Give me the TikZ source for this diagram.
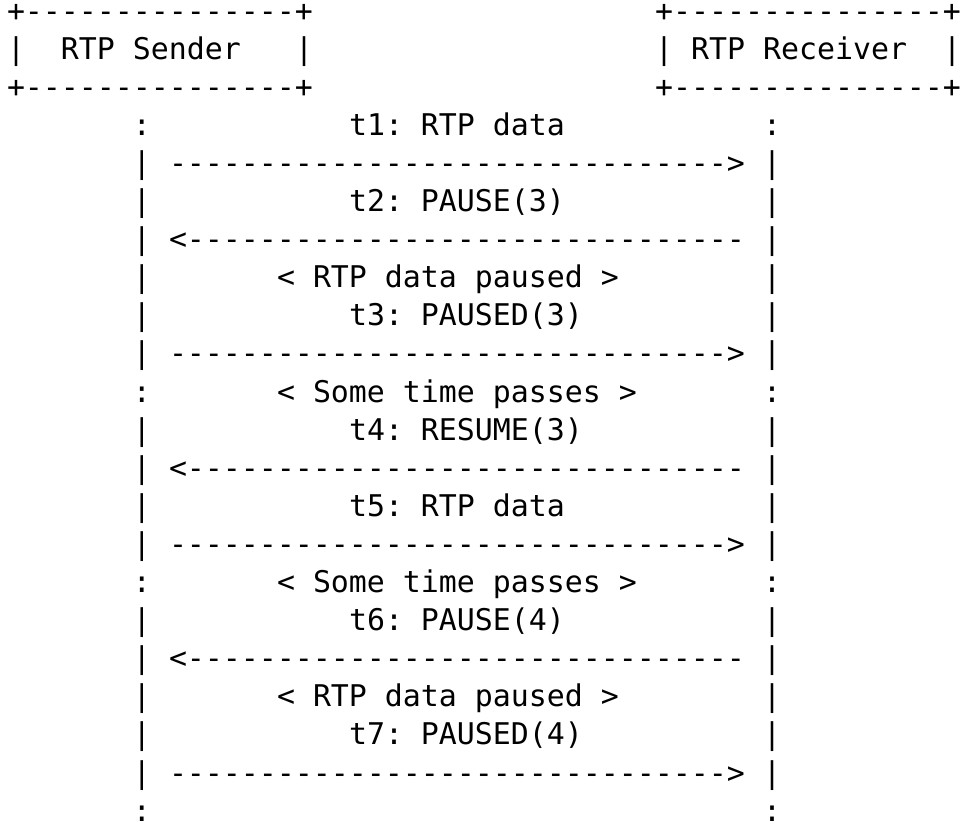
\documentclass[tikz,border=0pt]{standalone}
\usepackage{fontspec}
\newfontfamily\asciifont{DejaVu Sans Mono}
\frenchspacing
\tikzset{
  glyph/.style={anchor=base west, inner sep=0pt, outer sep=0pt,
    font=\asciifont\fontsize{14.95pt}{18pt}\selectfont\frenchspacing},
}

\begin{document}
\begin{tikzpicture}[x=0.5pt, y=-0.5pt]
  \def \cw {18}
  \def \lh {38.1}
  \useasboundingbox (0,0) rectangle (960,827);

  % the two boxes
  \foreach \c/\n in {0/snd, 36/rcv}
  {
    \node[glyph] (\n top) at ({7+\c*\cw}, {21+0*\lh}) {+---------------+};
    \node[glyph] (\n l) at ({7+\c*\cw}, {21+1*\lh}) {|};
    \node[glyph] (\n r) at ({7+(\c+16)*\cw}, {21+1*\lh}) {|};
    \node[glyph] (\n bot) at ({7+\c*\cw}, {21+2*\lh}) {+---------------+};
  }
  \node[glyph] (sndname) at ({7+3*\cw}, {21+1*\lh}) {RTP Sender};
  \node[glyph] (rcvname) at ({7+38*\cw}, {21+1*\lh}) {RTP Receiver};

  % life lines
  \foreach \r in {4,...,9,11,12,13,14,16,17,18,19,20}
  {
    \node[glyph] (sndl\r) at ({7+7*\cw}, {21+\r*\lh}) {|};
    \node[glyph] (rcvl\r) at ({7+42*\cw}, {21+\r*\lh}) {|};
  }
  \foreach \r in {3,10,15,21}
  {
    \node[glyph] (sndl\r) at ({7+7*\cw}, {21+\r*\lh}) {:};
    \node[glyph] (rcvl\r) at ({7+42*\cw}, {21+\r*\lh}) {:};
  }

  % messages
  \foreach \r/\c/\t [count=\i] in {3/19/{t1: RTP data}, 5/19/{t2: PAUSE(3)},
      7/15/{< RTP data paused >}, 8/19/{t3: PAUSED(3)},
      10/15/{< Some time passes >}, 11/19/{t4: RESUME(3)},
      13/19/{t5: RTP data}, 15/15/{< Some time passes >},
      16/19/{t6: PAUSE(4)}, 18/15/{< RTP data paused >},
      19/19/{t7: PAUSED(4)}}
  {
    \node[glyph] (msg\i) at ({7+\c*\cw}, {21+\r*\lh}) {\t};
  }

  % arrows
  \foreach \r in {4,9,14,20}
    \node[glyph] (fwd\r) at ({7+9*\cw}, {21+\r*\lh}) {------------------------------->};
  \foreach \r in {6,12,17}
    \node[glyph] (back\r) at ({7+9*\cw}, {21+\r*\lh}) {<-------------------------------};
\end{tikzpicture}
\end{document}
